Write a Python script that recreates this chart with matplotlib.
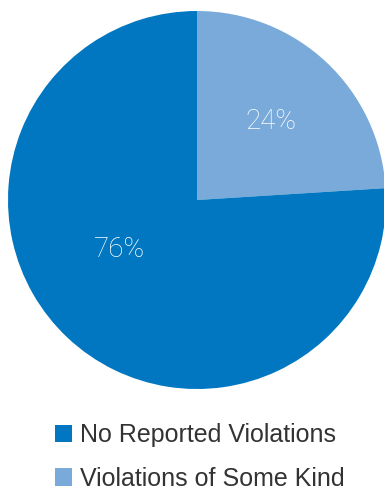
import matplotlib.pyplot as plt
from matplotlib.patches import Patch

# share of reports, drawn clockwise from 12 o'clock
categories = ["Violations of Some Kind", "No Reported Violations"]
shares = [24, 76]
colors = ["#79aad9", "#0077c0"]

# legend lists the larger group first
legend_order = ["No Reported Violations", "Violations of Some Kind"]

fig = plt.figure(figsize=(3.84, 4.91), dpi=100)
ax = fig.add_axes([8 / 384, 102 / 491, 378 / 384, 378 / 491])

wedges, texts, pcts = ax.pie(
    shares, colors=colors, startangle=90, counterclock=False,
    autopct=lambda p: "{:.0f}%".format(p), pctdistance=0.57,
    wedgeprops={"linewidth": 0}, radius=1.0,
)
ax.set_xlim(-1, 1)
ax.set_ylim(-1, 1)
ax.set_aspect("equal")

for t in pcts:
    t.set_color("white")
    t.set_fontsize(20)
    t.set_fontfamily("Roboto")
    t.set_fontweight("light")
# the big slice label sits left of the slice middle
pcts[1].set_position((-0.41, -0.26))

color_of = dict(zip(categories, colors))
handles = [Patch(facecolor=color_of[c], edgecolor="none") for c in legend_order]
leg = fig.legend(
    handles, legend_order, loc="upper left", bbox_to_anchor=(0.143, 0.138),
    frameon=False, handlelength=0.68, handleheight=0.68, handletextpad=0.32,
    labelspacing=0.78, borderpad=0, borderaxespad=0,
    prop={"family": "Liberation Sans", "size": 18},
)
for t in leg.get_texts():
    t.set_color("#333333")

plt.savefig("out.png", dpi=100)
plt.close()
